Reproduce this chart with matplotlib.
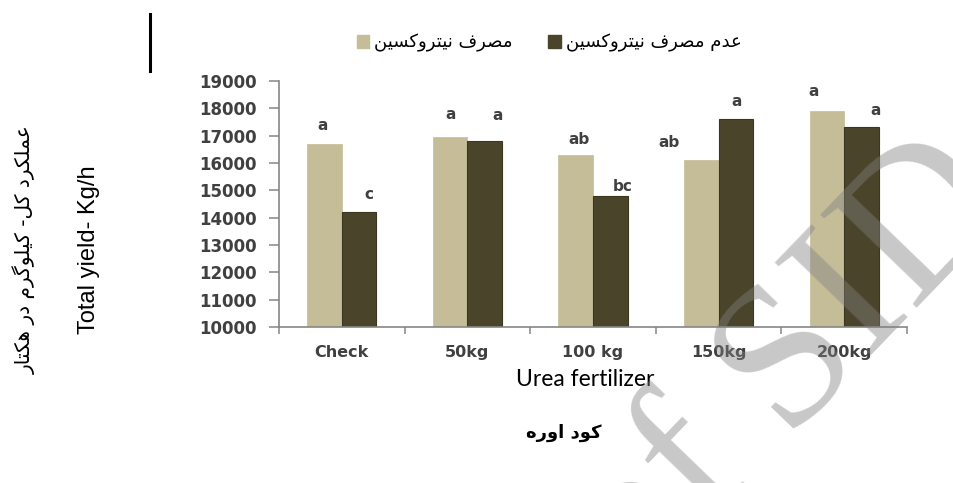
import matplotlib
matplotlib.use("Agg")
import matplotlib.pyplot as plt
import numpy as np
from matplotlib.lines import Line2D
from matplotlib.patches import Patch

# ---------------- data ----------------
categories = ["Check", "50kg", "100 kg", "150kg", "200kg"]
with_nitroxin = [16700, 16950, 16300, 16100, 17900]
without_nitroxin = [14200, 16800, 14800, 17600, 17300]
letters_with = ["a", "a", "ab", "ab", "a"]
letters_without = ["c", "a", "bc", "a", "a"]
yticks = [10000, 11000, 12000, 13000, 14000, 15000, 16000, 17000, 18000, 19000]
legend_with = "مصرف نیتروکسین"
legend_without = "عدم مصرف نیتروکسین"
xlabel_en = "Urea fertilizer"
xlabel_fa = "کود اوره"
ylabel_en = "Total yield- Kg/h"
ylabel_fa = "عملکرد کل- کیلوگرم در هکتار"
watermark = "Archive of SID"

# ------------- minimal Persian shaping (presentation forms, visual order) -------------
FORMS = {
    'ا': (0xFE8D, 0xFE8E, None, None),
    'ت': (0xFE95, 0xFE96, 0xFE97, 0xFE98),
    'د': (0xFEA9, 0xFEAA, None, None),
    'ر': (0xFEAD, 0xFEAE, None, None),
    'س': (0xFEB1, 0xFEB2, 0xFEB3, 0xFEB4),
    'ص': (0xFEB9, 0xFEBA, 0xFEBB, 0xFEBC),
    'ع': (0xFEC9, 0xFECA, 0xFECB, 0xFECC),
    'ف': (0xFED1, 0xFED2, 0xFED3, 0xFED4),
    'ل': (0xFEDD, 0xFEDE, 0xFEDF, 0xFEE0),
    'م': (0xFEE1, 0xFEE2, 0xFEE3, 0xFEE4),
    'ن': (0xFEE5, 0xFEE6, 0xFEE7, 0xFEE8),
    'ه': (0xFEE9, 0xFEEA, 0xFEEB, 0xFEEC),
    'و': (0xFEED, 0xFEEE, None, None),
    'ک': (0xFB8E, 0xFB8F, 0xFB90, 0xFB91),
    'گ': (0xFB92, 0xFB93, 0xFB94, 0xFB95),
    'ی': (0xFBFC, 0xFBFD, 0xFBFE, 0xFBFF),
}


def shape(s):
    out = []
    for i, c in enumerate(s):
        if c not in FORMS:
            out.append(c)
            continue
        iso, fin, ini, med = FORMS[c]
        prev_joins = i > 0 and s[i - 1] in FORMS and FORMS[s[i - 1]][2] is not None
        next_joins = ini is not None and i + 1 < len(s) and s[i + 1] in FORMS
        if prev_joins and next_joins:
            code = med
        elif prev_joins:
            code = fin
        elif next_joins:
            code = ini
        else:
            code = iso
        out.append(chr(code))
    return "".join(out)[::-1]


# ---------------- figure ----------------
plt.rcParams['font.family'] = ['DejaVu Sans']
W, H = 954, 483
fig = plt.figure(figsize=(W / 100, H / 100), dpi=100)
ax = fig.add_axes([279 / W, 1 - 327 / H, (907 - 279) / W, (327 - 81) / H])

c_light = "#C4BD97"
c_dark = "#4A452A"
axis_gray = "#868686"
text_gray = "#404040"

x = np.arange(len(categories))
bw = 0.275
ax.bar(x - bw / 2, with_nitroxin, bw, color=c_light, edgecolor=c_light, linewidth=0.5, zorder=2)
ax.bar(x + bw / 2, without_nitroxin, bw, color=c_dark, edgecolor="#3a3620", linewidth=0.8, zorder=2)

ax.set_xlim(-0.5, len(categories) - 0.5)
ax.set_ylim(yticks[0], yticks[-1])
ax.set_yticks(yticks)
ax.set_yticklabels([str(v) for v in yticks])
ax.set_xticks(x)
ax.set_xticklabels(categories)
ax.set_xticks(np.arange(len(categories) + 1) - 0.5, minor=True)

for s in ["top", "right"]:
    ax.spines[s].set_visible(False)
for s in ["left", "bottom"]:
    ax.spines[s].set_color(axis_gray)
    ax.spines[s].set_linewidth(1.2)

ax.tick_params(axis="y", direction="out", length=7, width=1.1, color=axis_gray, pad=9,
               labelsize=12, labelcolor=text_gray)
ax.tick_params(axis="x", which="major", length=0, pad=13, labelsize=11.5, labelcolor=text_gray)
ax.tick_params(axis="x", which="minor", direction="out", length=5, width=1.1, color=axis_gray)
for lab in ax.get_yticklabels() + ax.get_xticklabels():
    lab.set_fontweight("bold")

# significance letters
dx_light = [-1.4, 0, 2, -23, -9.4]
dx_dark = [7, 9.4, 8.6, 0.7, 10]
dy_light = [13, 16, 11, 13, 14]
dy_dark = [13, 18.5, 7, 13, 12]
for i in range(len(categories)):
    ax.annotate(letters_with[i], (x[i] - bw / 2, with_nitroxin[i]),
                xytext=(dx_light[i], dy_light[i]), textcoords="offset points",
                ha="center", va="center", fontsize=11, color=text_gray, fontweight="bold")
    ax.annotate(letters_without[i], (x[i] + bw / 2, without_nitroxin[i]),
                xytext=(dx_dark[i], dy_dark[i]), textcoords="offset points",
                ha="center", va="center", fontsize=11, color=text_gray, fontweight="bold")

# legend
handles = [Patch(facecolor=c_light, edgecolor=c_light),
           Patch(facecolor=c_dark, edgecolor=c_dark)]
fig.legend(handles, [shape(legend_with), shape(legend_without)], ncol=2,
           loc="center", bbox_to_anchor=(549 / W, 1 - 43 / H), frameon=False,
           handlelength=0.7, handleheight=0.7, handletextpad=0.25, columnspacing=2.0,
           prop={"size": 13})

# axis titles
fig.text(585 / W, 1 - 380 / H, xlabel_en, ha="center", va="center", fontsize=16.5,
         family="Lato", color="black")
fig.text(564 / W, 1 - 433 / H, shape(xlabel_fa), ha="center", va="center", fontsize=13,
         fontweight="bold", color="black")
fig.text(89 / W, 1 - 250 / H, ylabel_en, ha="center", va="center", rotation=90,
         fontsize=17, family="Liberation Sans", color="black")
fig.text(24 / W, 1 - 250 / H, shape(ylabel_fa), ha="center", va="center", rotation=90,
         fontsize=14.5, color="black")

# stray vertical line at top-left
fig.add_artist(Line2D([149.5 / W, 149.5 / W], [1 - 14 / H, 1 - 71 / H], color="black",
                      linewidth=2.2, transform=fig.transFigure))

# watermark
fig.text(1015 / W, 1 - 206 / H, watermark, ha="right", va="baseline", rotation=46,
         rotation_mode="anchor", fontsize=146, family="Liberation Serif",
         color="#808080", alpha=0.43, zorder=10)

fig.savefig("out.png", dpi=100)
